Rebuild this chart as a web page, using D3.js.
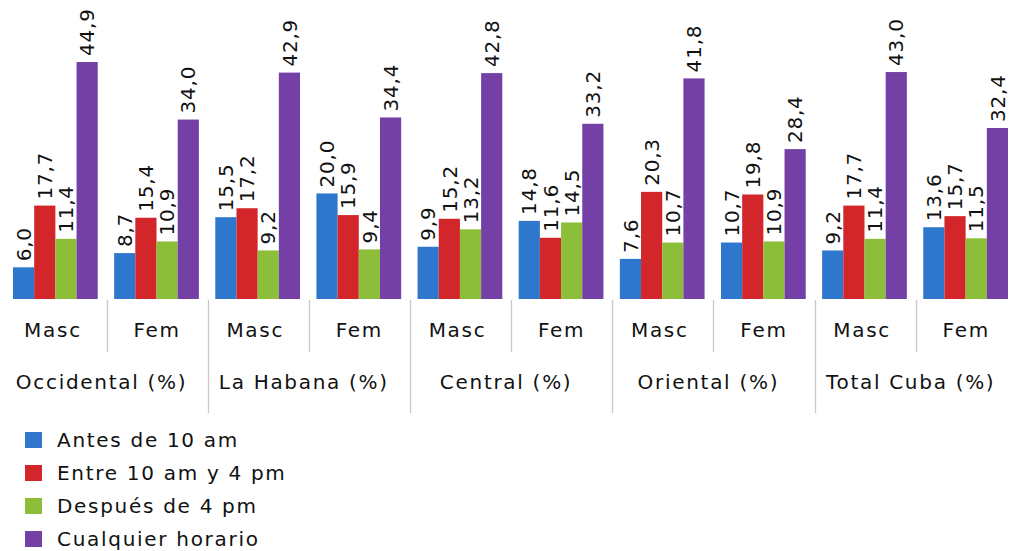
<!DOCTYPE html>
<html>
<head>
<meta charset="utf-8">
<script src="https://cdn.jsdelivr.net/npm/d3@7"></script>
<style>
  html, body { margin: 0; padding: 0; background: #ffffff; }
  svg { display: block; }
  text { font-family: "DejaVu Sans", Verdana, sans-serif; fill: #111; }
</style>
</head>
<body>
<svg id="chart" width="1011" height="551"></svg>
<script>
// ---- data ----
const regions = ["Occidental (%)", "La Habana (%)", "Central (%)", "Oriental (%)", "Total Cuba (%)"];
const sexes = ["Masc", "Fem"];
const seriesNames = ["Antes de 10 am", "Entre 10 am y 4 pm", "Después de 4 pm", "Cualquier horario"];
const seriesColors = ["#2f77cc", "#d2262b", "#8dbe3a", "#7440a6"];
// values per (region, sex) category, in series order
const antes      = [6.0, 8.7, 15.5, 20.0, 9.9, 14.8, 7.6, 10.7, 9.2, 13.6];
const entre      = [17.7, 15.4, 17.2, 15.9, 15.2, 11.6, 20.3, 19.8, 17.7, 15.7];
const despues    = [11.4, 10.9, 9.2, 9.4, 13.2, 14.5, 10.7, 10.9, 11.4, 11.5];
const cualquier  = [44.9, 34.0, 42.9, 34.4, 42.8, 33.2, 41.8, 28.4, 43.0, 32.4];
const seriesValues = [antes, entre, despues, cualquier];

const categories = [];
regions.forEach((r, ri) => sexes.forEach((s, si) => categories.push({ id: ri * 2 + si, region: r, sex: s })));

const svg = d3.select("#chart");
const fmt = v => v.toFixed(1).replace(".", ",");

const x0 = d3.scaleBand().domain(categories.map(c => c.id)).range([5.4, 1016.8]).paddingInner(0).paddingOuter(0);
const x1 = d3.scaleBand().domain(d3.range(seriesNames.length)).range([7.6, x0.bandwidth() - 8.8]).padding(0);
const y = d3.scaleLinear().domain([0, 45]).range([299, 61.5]);

// bars
const groups = svg.append("g").selectAll("g").data(categories).join("g")
  .attr("transform", d => `translate(${x0(d.id)},0)`);

groups.selectAll("rect")
  .data(d => seriesValues.map((vals, k) => ({ k, v: vals[d.id] })))
  .join("rect")
  .attr("x", d => x1(d.k))
  .attr("width", x1.bandwidth())
  .attr("y", d => y(d.v))
  .attr("height", d => y(0) - y(d.v))
  .attr("fill", d => seriesColors[d.k]);

// value labels (rotated)
groups.selectAll("text.val")
  .data(d => seriesValues.map((vals, k) => ({ k, v: vals[d.id] })))
  .join("text")
  .attr("class", "val")
  .attr("transform", d => `translate(${x1(d.k) + x1.bandwidth() / 2},${y(d.v) - 6}) rotate(-90)`)
  .attr("dy", "0.36em")
  .attr("text-anchor", "start")
  .style("font-size", "20px")
  .style("letter-spacing", "0.8px")
  .text(d => fmt(d.v));

// separators
const sep = svg.append("g").attr("stroke", "#c8c8c8").attr("stroke-width", 1.3);
categories.forEach(c => {
  if (c.id === 0) return;
  const xx = Math.round(x0(c.id)) + 0.5;
  const isGroup = c.id % 2 === 0;
  sep.append("line").attr("x1", xx).attr("x2", xx).attr("y1", 300).attr("y2", isGroup ? 413 : 352);
});

// sex labels
svg.append("g").selectAll("text").data(categories).join("text")
  .attr("x", d => x0(d.id) + x0.bandwidth() / 2 - (d.sex === "Masc" ? 3 : 0))
  .attr("y", 337)
  .attr("text-anchor", "middle")
  .style("font-size", "20px")
  .style("letter-spacing", "1.7px")
  .text(d => d.sex);

// region labels
svg.append("g").selectAll("text").data(regions).join("text")
  .attr("x", (d, i) => (x0(i * 2) + x0(i * 2 + 1) + x0.bandwidth()) / 2 - 5)
  .attr("y", 389)
  .attr("text-anchor", "middle")
  .style("font-size", "20px")
  .style("letter-spacing", "1.7px")
  .text(d => d);

// legend
const leg = svg.append("g").selectAll("g").data(seriesNames).join("g")
  .attr("transform", (d, i) => `translate(25,${432 + i * 33})`);
leg.append("rect").attr("width", 17).attr("height", 16).attr("fill", (d, i) => seriesColors[i]);
leg.append("text").attr("x", 32).attr("y", 15)
  .style("font-size", "20px")
  .style("letter-spacing", "1.7px")
  .text(d => d);
</script>
</body>
</html>
